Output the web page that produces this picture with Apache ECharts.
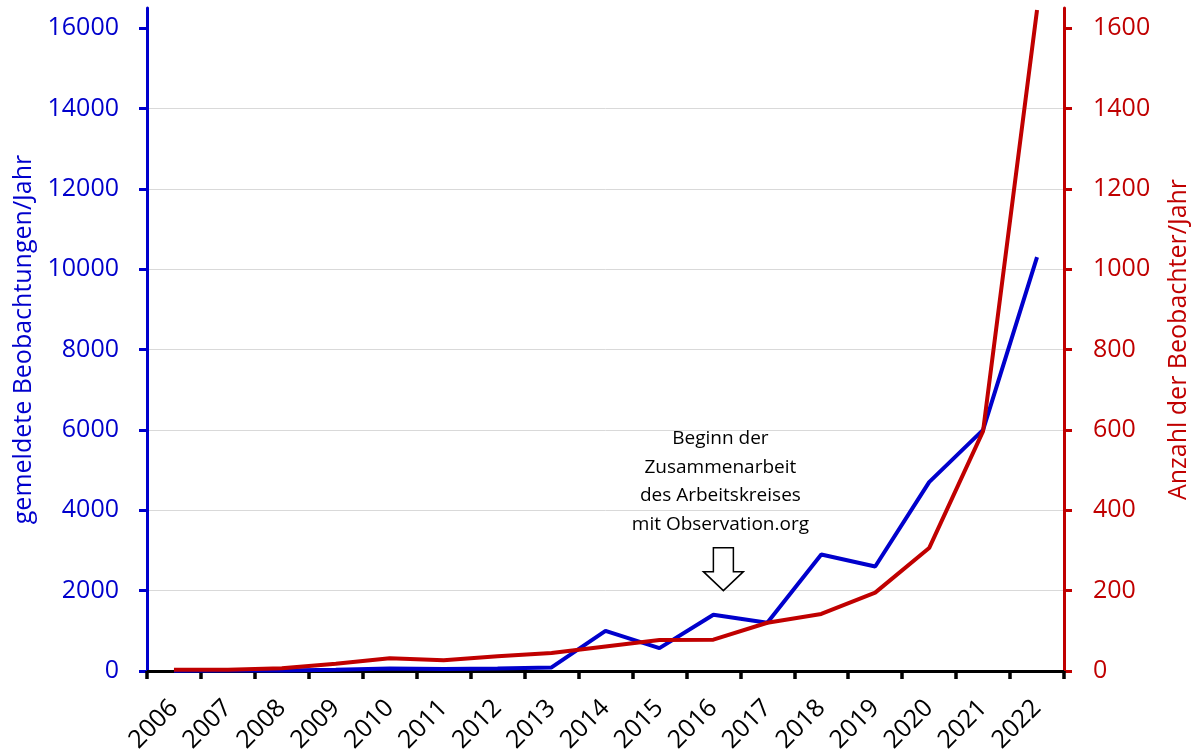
<!DOCTYPE html>
<html>
<head>
<meta charset="utf-8">
<script src="https://cdn.jsdelivr.net/npm/echarts@6/dist/echarts.min.js"></script>
<style>
  html, body { margin: 0; padding: 0; background: #fff; }
  #chart { width: 1195px; height: 755px; }
</style>
</head>
<body>
<div id="chart"></div>
<script>
// Jahre
const years = ['2006','2007','2008','2009','2010','2011','2012','2013','2014',
               '2015','2016','2017','2018','2019','2020','2021','2022'];
// gemeldete Beobachtungen pro Jahr (linke Achse)
const observations = [5, 10, 15, 30, 60, 50, 60, 90, 1000, 570, 1400, 1200, 2900, 2600, 4700, 6000, 10300];
// Anzahl der Beobachter pro Jahr (rechte Achse)
const observers = [3, 3, 7, 18, 32, 27, 37, 45, 61, 77, 78, 120, 142, 195, 306, 597, 1645];
// Achsenbeschriftungen
const leftTicks = [0, 2000, 4000, 6000, 8000, 10000, 12000, 14000, 16000];
const rightTicks = [0, 200, 400, 600, 800, 1000, 1200, 1400, 1600];
const noteLines = ['Beginn der', 'Zusammenarbeit', 'des Arbeitskreises', 'mit Observation.org'];

const BLUE = '#0000CC';
const RED = '#C00000';
const FONT = '"Open Sans", "Noto Sans", sans-serif';
const plain = v => String(v);

const chart = echarts.init(document.getElementById('chart'), null, { renderer: 'canvas' });

chart.setOption({
  animation: false,
  backgroundColor: '#ffffff',
  textStyle: { fontFamily: FONT },
  grid: { left: 147, right: 131, top: 8, bottom: 84, containLabel: false, outerBoundsMode: 'none' },
  xAxis: {
    type: 'category',
    data: years,
    boundaryGap: true,
    axisLine: { show: true, lineStyle: { color: '#000', width: 3 } },
    axisTick: { show: true, length: 8, lineStyle: { color: '#000', width: 3.5 } },
    axisLabel: { rotate: 45, fontSize: 25, color: '#000', fontFamily: FONT, margin: 33, interval: 0 },
    splitLine: { show: false }
  },
  yAxis: [
    {
      type: 'value',
      position: 'left',
      min: 0,
      max: 16500,
      interval: 2000,
      name: 'gemeldete Beobachtungen/Jahr',
      nameLocation: 'middle',
      nameRotate: 90,
      nameGap: 107,
      nameTextStyle: { color: BLUE, fontSize: 25, fontFamily: FONT },
      axisLine: { show: true, onZero: false, lineStyle: { color: BLUE, width: 3 } },
      axisTick: { show: true, length: 8, lineStyle: { color: BLUE, width: 3 }, customValues: leftTicks },
      axisLabel: { color: BLUE, fontSize: 25, fontFamily: FONT, margin: 28, formatter: plain, customValues: leftTicks },
      splitLine: { show: true, showMinLine: false, showMaxLine: false, lineStyle: { color: '#d9d9d9', width: 1 } }
    },
    {
      type: 'value',
      position: 'right',
      min: 0,
      max: 1650,
      interval: 200,
      name: 'Anzahl der Beobachter/Jahr',
      nameLocation: 'middle',
      nameRotate: 90,
      nameGap: 102,
      nameTextStyle: { color: RED, fontSize: 25, fontFamily: FONT },
      axisLine: { show: true, onZero: false, lineStyle: { color: RED, width: 3 } },
      axisTick: { show: true, length: 8, lineStyle: { color: RED, width: 3 }, customValues: rightTicks },
      axisLabel: { color: RED, fontSize: 25, fontFamily: FONT, margin: 29, formatter: plain, customValues: rightTicks },
      splitLine: { show: false }
    }
  ],
  series: [
    {
      name: 'gemeldete Beobachtungen',
      type: 'line',
      yAxisIndex: 0,
      data: observations,
      symbol: 'none',
      lineStyle: { color: BLUE, width: 4 },
      z: 2
    },
    {
      name: 'Beobachter',
      type: 'line',
      yAxisIndex: 1,
      data: observers,
      symbol: 'none',
      lineStyle: { color: RED, width: 4 },
      z: 3
    }
  ]
});

// Hinweis mit Pfeil über dem Jahr 2016
const tip = chart.convertToPixel({ xAxisIndex: 0, yAxisIndex: 0 }, ['2016', 2000]);
const ax = tip[0] + 10;
const ay = tip[1];
chart.setOption({
  graphic: [
    {
      type: 'polygon',
      z: 10,
      shape: {
        points: [
          [ax - 10, ay - 43], [ax + 10, ay - 43], [ax + 10, ay - 19],
          [ax + 20, ay - 19], [ax, ay], [ax - 20, ay - 19], [ax - 10, ay - 19]
        ]
      },
      style: { fill: '#ffffff', stroke: '#000000', lineWidth: 1.5 }
    },
    {
      type: 'text',
      z: 10,
      x: ax - 3,
      y: ay - 166,
      style: {
        text: noteLines.join('\n'),
        fontFamily: FONT,
        fontSize: 19,
        lineHeight: 28.5,
        fill: '#000000',
        align: 'center',
        verticalAlign: 'top'
      }
    }
  ]
});
</script>
</body>
</html>
